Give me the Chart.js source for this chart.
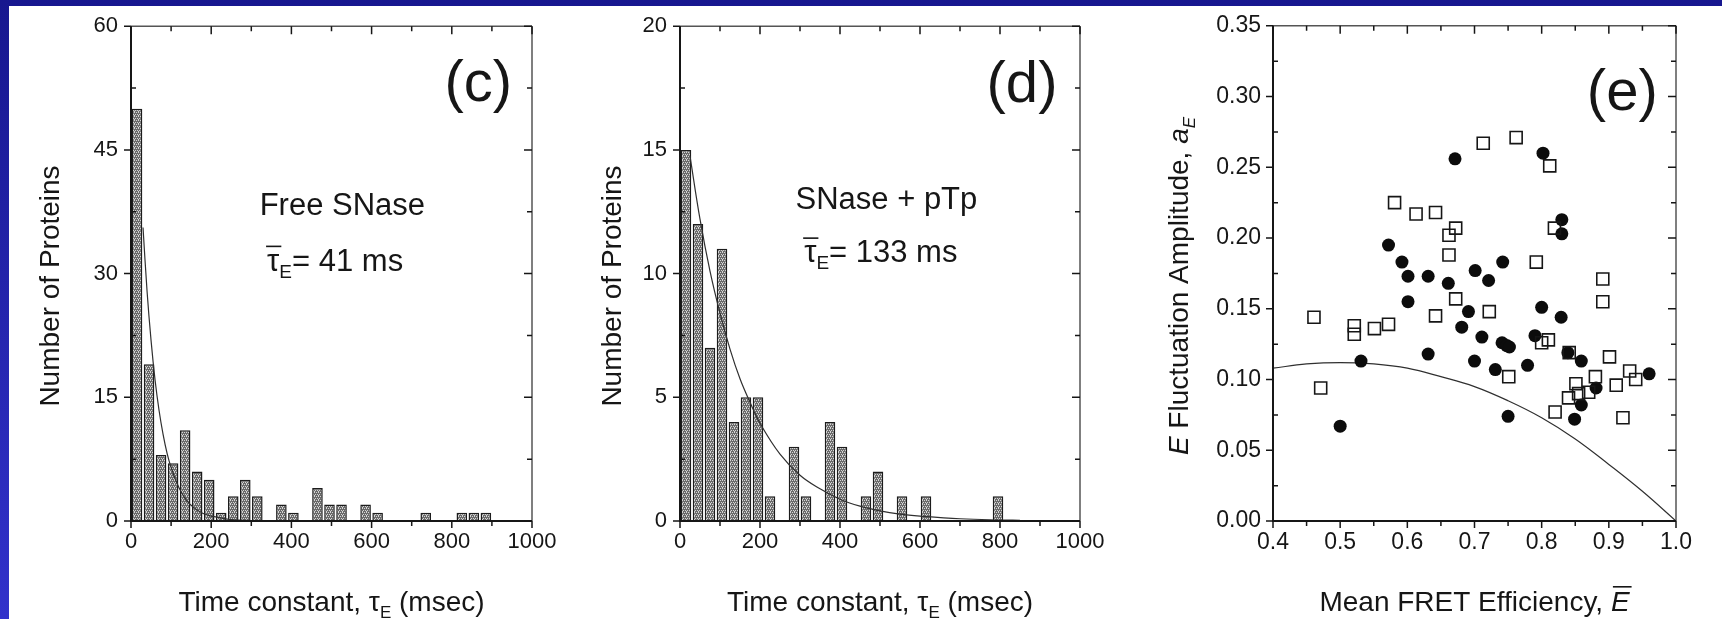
<!DOCTYPE html>
<html lang="en">
<head>
<meta charset="UTF-8">
<title>SNase FRET fluctuations</title>
<style>
    body { margin: 0; width: 1722px; height: 619px; overflow: hidden; position: relative;
           background: linear-gradient(#17178f, #3232cb); }
    .sheet { position: absolute; left: 9px; top: 6px; right: 0; bottom: 0; background: #fff; }
    canvas { position: absolute; top: 0; }
    #chartC { left: 0; }
    #chartD { left: 580px; }
    #chartE { left: 1150px; }
</style>
</head>
<body>
<div class="sheet"></div>
<canvas id="chartC" width="580" height="619"></canvas>
<canvas id="chartD" width="570" height="619"></canvas>
<canvas id="chartE" width="572" height="619"></canvas>

<script src="https://cdn.jsdelivr.net/npm/chart.js@4"></script>
<script>
    // --- data ---

    // histogram bins (ms, bin centres, 30 ms wide)
    const binCentres = [15, 45, 75, 105, 135, 165, 195, 225, 255, 285, 315, 345, 375, 405, 435,
                        465, 495, 525, 555, 585, 615, 645, 675, 705, 735, 765, 795, 825, 855, 885];
    const freeCounts = [50, 19, 8, 7, 11, 6, 5, 1, 3, 5, 3, 0, 2, 1, 0,
                        4, 2, 2, 0, 2, 1, 0, 0, 0, 1, 0, 0, 1, 1, 1];
    const pTpCounts  = [15, 12, 7, 11, 4, 5, 5, 1, 0, 3, 1, 0, 4, 3, 0,
                        1, 2, 0, 1, 0, 1, 0, 0, 0, 0, 0, 1, 0, 0, 0];

    // single exponential fits drawn over the histograms
    const freeFitT = [30, 40, 50, 60, 70, 80, 90, 100, 120, 140, 160, 180, 200, 250, 300, 350];
    const freeFitN = [35.6, 27.9, 21.9, 17.1, 13.4, 10.5, 8.2, 6.5, 4.0, 2.4, 1.5, 0.9, 0.6, 0.17, 0.05, 0.01];
    const pTpFitT = [25, 50, 75, 100, 125, 150, 175, 200, 250, 300, 350, 400, 450, 500, 550, 600, 700, 800, 850];
    const pTpFitN = [14.75, 12.2, 10.1, 8.4, 6.95, 5.75, 4.8, 3.95, 2.7, 1.85, 1.3, 0.88, 0.6, 0.41, 0.28, 0.2, 0.09, 0.04, 0.03];

    // panel (e): filled circles
    const circleE = [0.671, 0.802, 0.830, 0.830, 0.572, 0.592, 0.601, 0.631, 0.661, 0.601, 0.701, 0.721,
                     0.742, 0.691, 0.681, 0.711, 0.741, 0.748, 0.752, 0.800, 0.829, 0.790, 0.631, 0.700,
                     0.731, 0.779, 0.531, 0.500, 0.750, 0.839, 0.859, 0.859, 0.849, 0.881, 0.960];
    const circleA = [0.256, 0.260, 0.213, 0.203, 0.195, 0.183, 0.173, 0.173, 0.168, 0.155, 0.177, 0.170,
                     0.183, 0.148, 0.137, 0.130, 0.126, 0.124, 0.123, 0.151, 0.144, 0.131, 0.118, 0.113,
                     0.107, 0.110, 0.113, 0.067, 0.074, 0.119, 0.113, 0.082, 0.072, 0.094, 0.104];
    // panel (e): open squares
    const squareE = [0.461, 0.471, 0.521, 0.521, 0.551, 0.572, 0.581, 0.613, 0.642, 0.662, 0.672, 0.662,
                     0.672, 0.642, 0.722, 0.751, 0.713, 0.762, 0.792, 0.800, 0.810, 0.812, 0.819, 0.820,
                     0.840, 0.851, 0.841, 0.855, 0.870, 0.880, 0.891, 0.891, 0.901, 0.911, 0.931, 0.940, 0.921];
    const squareA = [0.144, 0.094, 0.138, 0.132, 0.136, 0.139, 0.225, 0.217, 0.218, 0.202, 0.207, 0.188,
                     0.157, 0.145, 0.148, 0.102, 0.267, 0.271, 0.183, 0.126, 0.128, 0.251, 0.207, 0.077,
                     0.087, 0.097, 0.119, 0.090, 0.091, 0.102, 0.171, 0.155, 0.116, 0.096, 0.106, 0.100, 0.073];
    // panel (e): model curve
    const modelE = [0.40, 0.45, 0.50, 0.55, 0.60, 0.65, 0.70, 0.75, 0.80, 0.85, 0.90, 0.95, 1.00];
    const modelA = [0.108, 0.111, 0.112, 0.111, 0.108, 0.102, 0.095, 0.085, 0.073, 0.058, 0.040, 0.021, 0.000];

    // tick values and labels
    const timeTicks = [0, 200, 400, 600, 800, 1000];
    const timeLabels = ['0', '200', '400', '600', '800', '1000'];
    const freeTicks = [0, 15, 30, 45, 60];
    const freeLabels = ['0', '15', '30', '45', '60'];
    const pTpTicks = [0, 5, 10, 15, 20];
    const pTpLabels = ['0', '5', '10', '15', '20'];
    const effTicks = [0.4, 0.5, 0.6, 0.7, 0.8, 0.9, 1.0];
    const effLabels = ['0.4', '0.5', '0.6', '0.7', '0.8', '0.9', '1.0'];
    const ampTicks = [0, 0.05, 0.10, 0.15, 0.20, 0.25, 0.30, 0.35];
    const ampLabels = ['0.00', '0.05', '0.10', '0.15', '0.20', '0.25', '0.30', '0.35'];

    // --- drawing helpers ---
    const FONT = '"Liberation Sans", Arial, Helvetica, sans-serif';
    const INK = '#161616';
    const f = (size, style) => (style ? style + ' ' : '') + size + 'px ' + FONT;

    // grey stipple like the scanned bars
    function stipple() {
        const c = document.createElement('canvas');
        c.width = 4; c.height = 4;
        const g = c.getContext('2d');
        g.fillStyle = '#6a6a6a';
        g.fillRect(0, 0, 4, 4);
        g.fillStyle = '#d4d4d4';
        [[0, 0], [2, 0], [1, 2], [3, 2], [2, 3]].forEach(p => g.fillRect(p[0], p[1], 1, 1));
        return g.createPattern(c, 'repeat');
    }

    // text made of runs (subscripts, italics, overbars), centred on cx
    function drawRuns(ctx, list, cx, base) {
        let w = 0;
        list.forEach(r => { ctx.font = r.font; r.w = ctx.measureText(r.t).width; w += r.w; });
        let xx = cx - w / 2;
        ctx.textAlign = 'left';
        ctx.textBaseline = 'alphabetic';
        list.forEach(r => {
            ctx.font = r.font;
            ctx.fillText(r.t, xx, base + (r.dy || 0));
            if (r.bar) ctx.fillRect(xx + r.bar[0], base - r.bar[1], r.w + r.bar[2], 1.6);
            xx += r.w;
        });
    }

    function drawVertical(ctx, list, cx, cy, size) {
        ctx.save();
        ctx.translate(cx, cy);
        ctx.rotate(-Math.PI / 2);
        drawRuns(ctx, list, 0, size * 0.36);
        ctx.restore();
    }

    // box frame with inward / outward ticks on all four sides
    function drawFrame(chart, xMajor, yMajor) {
        const { ctx, chartArea: a, scales: { x, y } } = chart;
        const mids = arr => arr.slice(1).map((v, i) => (v + arr[i]) / 2);
        const seg = (x1, y1, x2, y2) => { ctx.moveTo(x1, y1); ctx.lineTo(x2, y2); };
        ctx.save();
        ctx.strokeStyle = '#555';
        ctx.lineWidth = 1.5;
        ctx.beginPath();
        seg(a.left, a.top, a.right, a.top);
        seg(a.right, a.top, a.right, a.bottom);
        ctx.stroke();
        ctx.strokeStyle = INK;
        ctx.lineWidth = 2;
        ctx.beginPath();
        ctx.moveTo(a.left, a.top); ctx.lineTo(a.left, a.bottom); ctx.lineTo(a.right, a.bottom);
        ctx.stroke();
        ctx.lineWidth = 1.5;
        ctx.beginPath();
        xMajor.forEach(v => {
            const p = x.getPixelForValue(v);
            seg(p, a.bottom, p, a.bottom + 7);
            seg(p, a.top, p, a.top + 8);
        });
        mids(xMajor).forEach(v => {
            const p = x.getPixelForValue(v);
            seg(p, a.bottom, p, a.bottom + 5);
            seg(p, a.top, p, a.top + 5);
        });
        yMajor.forEach(v => {
            const p = y.getPixelForValue(v);
            seg(a.left - 7, p, a.left, p);
            seg(a.right - 8, p, a.right, p);
        });
        mids(yMajor).forEach(v => {
            const p = y.getPixelForValue(v);
            seg(a.left, p, a.left + 5, p);
            seg(a.right - 5, p, a.right, p);
        });
        ctx.stroke();
        ctx.restore();
    }

    function axis(min, max, ticks, labels, fit, pad, size) {
        return {
            type: 'linear', min: min, max: max, offset: false,
            grid: { display: false, drawTicks: false },
            border: { display: false },
            afterBuildTicks: s => { s.ticks = ticks.map(v => ({ value: v })); },
            afterFit: fit,
            ticks: {
                autoSkip: false, maxRotation: 0, padding: pad, color: INK,
                font: { family: FONT, size: size },
                callback: (v, i) => labels[i]
            }
        };
    }

    const timeTitle = [
        { t: 'Time constant, \u03C4', font: f(28) },
        { t: 'E', font: f(17), dy: 7 },
        { t: ' (msec)', font: f(28) }
    ];

    function histogram(id, counts, fitT, fitN, yMax, yTicks, yLabels, yWidth, padRight, notes) {
        const pattern = stipple();
        return new Chart(document.getElementById(id), {
            type: 'bar',
            data: {
                datasets: [{
                    type: 'line',
                    data: fitT.map((t, i) => ({ x: t, y: fitN[i] })),
                    borderColor: '#303030',
                    borderWidth: 1.2,
                    pointRadius: 0,
                    tension: 0.4,
                    fill: false,
                    order: 1
                }, {
                    type: 'bar',
                    data: binCentres.map((t, i) => ({ x: t, y: counts[i] })),
                    backgroundColor: pattern,
                    borderColor: '#1c1c1c',
                    borderWidth: 1.5,
                    barPercentage: 0.88,
                    categoryPercentage: 1,
                    order: 2
                }]
            },
            options: {
                responsive: false,
                animation: false,
                layout: { padding: { left: 0, top: 22, right: padRight, bottom: 0 } },
                plugins: { legend: { display: false }, tooltip: { enabled: false } },
                scales: {
                    x: axis(0, 1000, timeTicks, timeLabels, s => { s.height = 98; }, 8, 22),
                    y: axis(0, yMax, yTicks, yLabels, s => { s.width = yWidth; }, 13, 22)
                }
            },
            plugins: [{
                id: 'decor',
                afterDatasetsDraw(chart) {
                    drawFrame(chart, timeTicks, yTicks);
                    const { ctx, chartArea: a, scales: { x, y } } = chart;
                    ctx.save();
                    ctx.fillStyle = INK;
                    ctx.textAlign = 'center';
                    ctx.textBaseline = 'middle';
                    ctx.font = f(58);
                    ctx.fillText(notes.tag, x.getPixelForValue(notes.tagAt[0]), y.getPixelForValue(notes.tagAt[1]));
                    ctx.font = f(31);
                    ctx.fillText(notes.name, x.getPixelForValue(notes.nameAt[0]), y.getPixelForValue(notes.nameAt[1]));
                    drawRuns(ctx, [
                        { t: '\u03C4', font: f(31), bar: [-1, 25, 3] },
                        { t: 'E', font: f(19), dy: 7 },
                        { t: '= ' + notes.mean + ' ms', font: f(31) }
                    ], x.getPixelForValue(notes.meanAt[0]), y.getPixelForValue(notes.meanAt[1]) + 11);
                    drawRuns(ctx, timeTitle, (a.left + a.right) / 2, 611);
                    drawVertical(ctx, [{ t: 'Number of Proteins', font: f(28) }], a.left - notes.yTitleGap, 286, 28);
                    ctx.restore();
                }
            }]
        });
    }

    histogram('chartC', freeCounts, freeFitT, freeFitN, 60, freeTicks, freeLabels, 131, 48, {
        tag: '(c)', tagAt: [866, 52.9],
        name: 'Free SNase', nameAt: [527, 38.1],
        mean: '41', meanAt: [509, 31.7],
        yTitleGap: 82
    });

    histogram('chartD', pTpCounts, pTpFitT, pTpFitN, 20, pTpTicks, pTpLabels, 100, 70, {
        tag: '(d)', tagAt: [855, 17.6],
        name: 'SNase + pTp', nameAt: [516, 12.95],
        mean: '133', meanAt: [502, 10.9],
        yTitleGap: 69
    });

    new Chart(document.getElementById('chartE'), {
        type: 'scatter',
        data: {
            datasets: [{
                data: squareE.map((e, i) => ({ x: e, y: squareA[i] })),
                pointStyle: 'rect',
                pointRadius: 8.5,
                backgroundColor: 'rgba(0,0,0,0)',
                borderColor: INK,
                borderWidth: 1.6,
                order: 1
            }, {
                data: circleE.map((e, i) => ({ x: e, y: circleA[i] })),
                pointStyle: 'circle',
                pointRadius: 6.5,
                backgroundColor: '#0c0c0c',
                borderColor: '#0c0c0c',
                borderWidth: 0,
                order: 2
            }, {
                data: modelE.map((e, i) => ({ x: e, y: modelA[i] })),
                showLine: true,
                pointRadius: 0,
                borderColor: '#303030',
                borderWidth: 1.2,
                tension: 0.4,
                order: 3
            }]
        },
        options: {
            responsive: false,
            animation: false,
            layout: { padding: { left: 0, top: 22, right: 46, bottom: 0 } },
            plugins: { legend: { display: false }, tooltip: { enabled: false } },
            scales: {
                x: axis(0.4, 1.0, effTicks, effLabels, s => { s.height = 98; }, 8, 23),
                y: axis(0, 0.35, ampTicks, ampLabels, s => { s.width = 123; }, 12, 23)
            }
        },
        plugins: [{
            id: 'decor',
            afterDatasetsDraw(chart) {
                drawFrame(chart, effTicks, ampTicks);
                const { ctx, chartArea: a, scales: { x, y } } = chart;
                ctx.save();
                ctx.fillStyle = INK;
                ctx.textAlign = 'center';
                ctx.textBaseline = 'middle';
                ctx.font = f(58);
                ctx.fillText('(e)', x.getPixelForValue(0.92), y.getPixelForValue(0.3015));
                drawRuns(ctx, [
                    { t: 'Mean FRET Efficiency, ', font: f(28) },
                    { t: 'E', font: f(28, 'italic'), bar: [2, 25, 0] }
                ], (a.left + a.right) / 2, 611);
                drawVertical(ctx, [
                    { t: 'E', font: f(28, 'italic') },
                    { t: ' Fluctuation Amplitude, ', font: f(28) },
                    { t: 'a', font: f(28, 'italic') },
                    { t: 'E', font: f(17, 'italic'), dy: 7 }
                ], a.left - 95, 286, 28);
                ctx.restore();
            }
        }]
    });
</script>
</body>
</html>
